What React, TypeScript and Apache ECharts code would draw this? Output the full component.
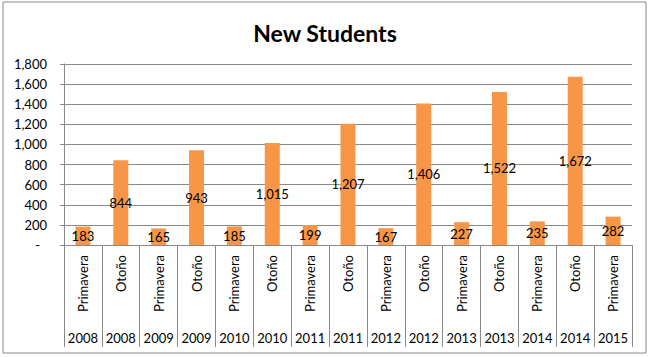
import React, { useEffect, useRef } from "react";
import * as echarts from "echarts";

const seasons = [
  "Primavera", "Otoño", "Primavera", "Otoño", "Primavera", "Otoño", "Primavera", "Otoño",
  "Primavera", "Otoño", "Primavera", "Otoño", "Primavera", "Otoño", "Primavera",
];
const years = [
  "2008", "2008", "2009", "2009", "2010", "2010", "2011", "2011",
  "2012", "2012", "2013", "2013", "2014", "2014", "2015",
];
const students = [183, 844, 165, 943, 185, 1015, 199, 1207, 167, 1406, 227, 1522, 235, 1672, 282];

const fmt = (v: number) => v.toLocaleString("en-US");
const FONT = "Lato";
const FS = 13;
const GRAY = "#898989";

export default function App() {
  const ref = useRef<HTMLDivElement>(null);
  useEffect(() => {
    document.body.style.margin = "0";
    const chart = echarts.init(ref.current!, null, { renderer: "svg" });
    chart.setOption({
      animation: false,
      backgroundColor: "#ffffff",
      textStyle: { fontFamily: FONT },
      title: {
        text: "New Students",
        left: "center",
        top: 16,
        textStyle: { fontFamily: FONT, fontSize: 23, fontWeight: "bold", color: "#000" },
      },
      graphic: [
        {
          type: "rect",
          shape: { x: 3, y: 2, width: 643, height: 351 },
          style: { fill: "none", stroke: GRAY, lineWidth: 1 },
          silent: true,
        },
      ],
      grid: { left: 64, right: 18, top: 64, bottom: 112 },
      xAxis: [
        {
          type: "category",
          data: seasons,
          gridIndex: 0,
          axisLine: { show: true, lineStyle: { color: GRAY } },
          axisTick: { show: true, interval: 0, length: 102, lineStyle: { color: GRAY } },
          axisLabel: {
            interval: 0,
            rotate: 90,
            margin: 10,
            fontSize: FS,
            color: "#000",
            fontFamily: FONT,
            padding: [0, 0, 8, 0],
          },
        },
        {
          type: "category",
          data: years.map((_, i) => String(i)),
          gridIndex: 0,
          position: "bottom",
          offset: 79,
          axisLine: { show: false },
          axisTick: { show: false },
          axisLabel: {
            interval: 0,
            margin: 7,
            fontSize: FS,
            color: "#000",
            fontFamily: FONT,
            formatter: (v: string) => years[Number(v)],
          },
        },
      ],
      yAxis: {
        type: "value",
        min: 0,
        max: 1800,
        interval: 200,
        axisLine: { show: true, lineStyle: { color: GRAY } },
        axisTick: { show: true, length: 4, lineStyle: { color: GRAY } },
        splitLine: { show: true, lineStyle: { color: GRAY } },
        axisLabel: {
          margin: 17,
          fontSize: FS,
          color: "#000",
          fontFamily: FONT,
          formatter: (v: number) => (v === 0 ? "{z|-}" : fmt(v)),
          rich: { z: { padding: [0, 7, 0, 0], fontSize: FS, fontFamily: FONT, color: "#000" } },
        },
      },
      series: [
        {
          type: "bar",
          xAxisIndex: 0,
          data: students,
          barWidth: 15,
          itemStyle: { color: "#F79646" },
          label: {
            show: true,
            position: "inside",
            color: "#000",
            fontSize: FS,
            fontFamily: FONT,
            formatter: (p: any) => fmt(p.value),
          },
        },
      ],
    });
    return () => chart.dispose();
  }, []);
  return <div ref={ref} style={{ width: 650, height: 357 }} />;
}
